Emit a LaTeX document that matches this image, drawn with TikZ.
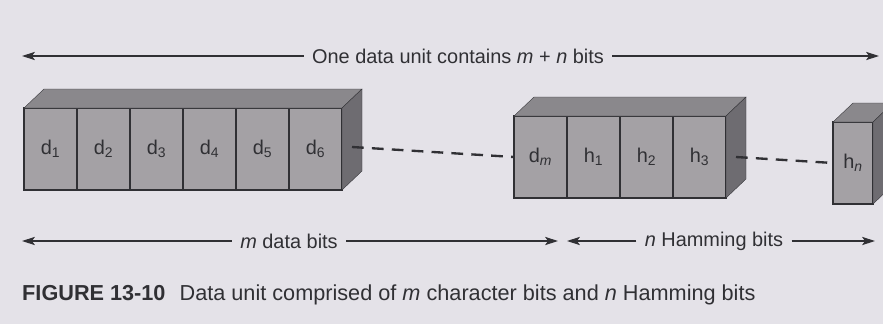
\documentclass[tikz,border=0pt]{standalone}
\usepackage{fontspec}
\setmainfont{Liberation Sans}
\usepackage{tikz}
\usetikzlibrary{arrows.meta, positioning, calc}
\definecolor{paper}{RGB}{228, 226, 232}
\definecolor{frontgray}{RGB}{164, 161, 165}
\definecolor{topgray}{RGB}{138, 136, 140}
\definecolor{sidegray}{RGB}{110, 108, 113}
\definecolor{inkcol}{RGB}{48, 48, 52}

\begin{document}
\begin{tikzpicture}[
    x=0.03cm, y=-0.03cm,
    >={Stealth[length=11pt, width=7pt, inset=2.5pt]},
    font=\fontsize{17}{19}\selectfont,
    bitcell/.style={rectangle, draw=inkcol, fill=frontgray, line width=0.9pt,
                    minimum width=1.59cm, minimum height=2.46cm,
                    inner sep=0pt, outer sep=0pt,
                    text=inkcol, font=\fontsize{17}{19}\selectfont},
    topface/.style={fill=topgray, draw=inkcol, line width=0.3pt},
    sideface/.style={fill=sidegray, draw=inkcol, line width=0.3pt},
    dimarrow/.style={->, line width=1pt, draw=inkcol},
    dashlink/.style={line width=2pt, draw=inkcol, dash pattern=on 10pt off 7pt},
    dimlabel/.style={text=inkcol, inner xsep=7pt, inner ysep=0pt},
]

% ============================================================
% PAGE
% ============================================================
\useasboundingbox (0,0) rectangle (883,324);
\clip (0,0) rectangle (883,324);
\fill[paper] (0,0) rectangle (883,324);

% ============================================================
% BIT CELLS (front faces)
% ============================================================
\node[bitcell] (d1) at (50.5,149) {d\textsubscript{1}};
\foreach \i [count=\p from 1] in {2,...,6}
    \node[bitcell, right=0pt of d\p] (d\i) {d\textsubscript{\i}};

\node[bitcell] (dm) at (540.5,157) {d\textsubscript{\itshape m}};
\node[bitcell, right=0pt of dm] (h1) {h\textsubscript{1}};
\node[bitcell, right=0pt of h1] (h2) {h\textsubscript{2}};
\node[bitcell, right=0pt of h2] (h3) {h\textsubscript{3}};

\node[bitcell, minimum width=1.2cm] (hn) at (853,163) {h\textsubscript{\itshape n}};

% ============================================================
% 3-D FACES (top and right side of each block)
% ============================================================
\foreach \first/\last in {d1/d6, dm/h3, hn/hn} {
    \filldraw[topface] (\first.north west) -- ++(20,-19)
        -- ($(\last.north east)+(20,-19)$) -- (\last.north east) -- cycle;
    \filldraw[sideface] (\last.north east) -- ++(20,-19)
        -- ($(\last.south east)+(20,-19)$) -- (\last.south east) -- cycle;
}

% ============================================================
% DASHED LINKS BETWEEN BLOCKS
% ============================================================
\coordinate (link1) at ($(d6.east)+(10,-2)$);
\coordinate (link2) at ($(h3.east)+(10,0)$);
\draw[dashlink] (link1) -- (dm.west);
\draw[dashlink] (link2) -- (hn.west);

% ============================================================
% DIMENSION ARROWS
% ============================================================
\node[dimlabel] (unitlabel) at (458,56)
    {One data unit contains \textit{m} + \textit{n} bits};
\coordinate (unitL) at (22,56);
\coordinate (unitR) at (879,56);
\draw[dimarrow] (unitlabel.west) -- (unitL);
\draw[dimarrow] (unitlabel.east) -- (unitR);

\node[dimlabel] (mlabel) at (289,241) {\textit{m} data bits};
\coordinate (mL) at (22,241);
\coordinate (mR) at (558,241);
\draw[dimarrow] (mlabel.west) -- (mL);
\draw[dimarrow] (mlabel.east) -- (mR);

\node[dimlabel] (nlabel) at (714,241) {\textit{n} Hamming bits};
\coordinate (nL) at (567,241);
\coordinate (nR) at (875,241);
\draw[dimarrow] (nlabel.west) -- (nL);
\draw[dimarrow] (nlabel.east) -- (nR);

% ============================================================
% CAPTION
% ============================================================
\node[anchor=west, inner sep=0pt, text=inkcol,
      font=\fontsize{18.5}{20}\selectfont] (caption) at (22,295)
    {\textbf{FIGURE 13-10}\hspace{12pt}Data unit comprised of \textit{m}
     character bits and \textit{n} Hamming bits};

\end{tikzpicture}
\end{document}
